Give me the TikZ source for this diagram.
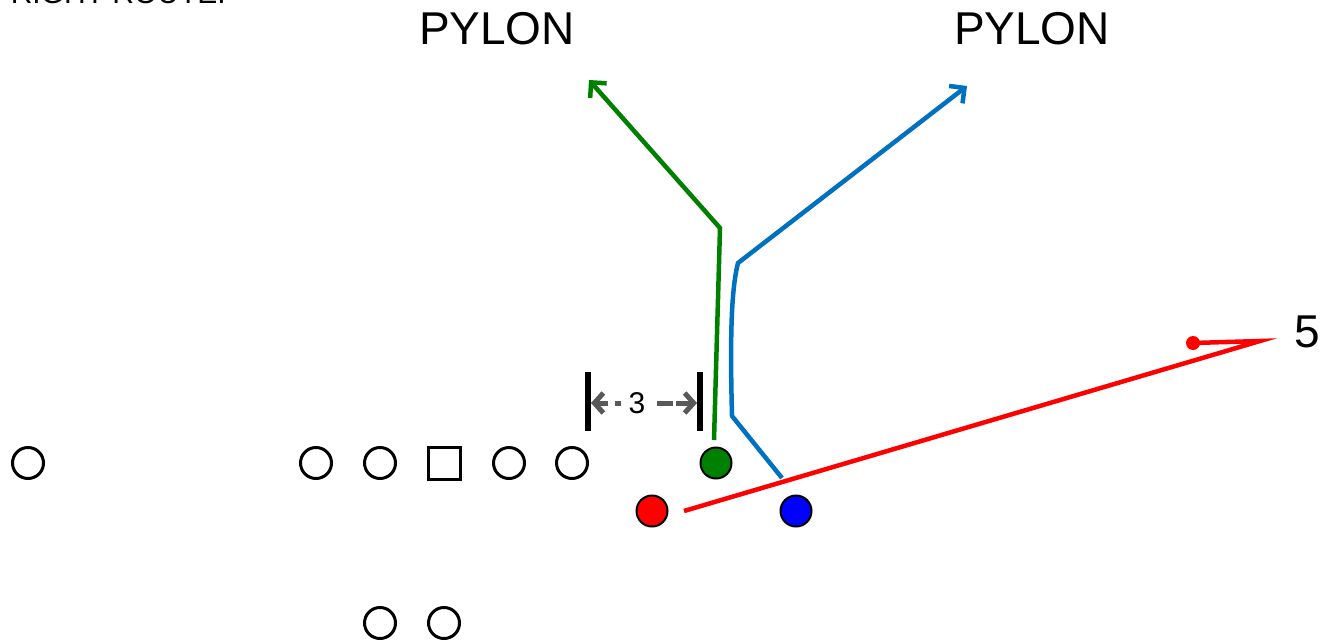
\documentclass[tikz,border=0pt]{standalone}
\usepackage{fontspec}
\setmainfont{Liberation Sans}
\usetikzlibrary{arrows.meta}
\definecolor{routegreen}{RGB}{0,128,0}
\definecolor{routeblue}{RGB}{0,112,192}
\definecolor{routered}{RGB}{255,0,0}
\definecolor{dotblue}{RGB}{0,0,255}
\definecolor{dimgray}{RGB}{89,89,89}
\begin{document}
\begin{tikzpicture}[x=1pt,y=-1pt,
  player/.style={circle,draw=black,line width=3pt,minimum size=31pt,inner sep=0pt},
  centerbox/.style={rectangle,draw=black,line width=3pt,minimum size=32pt,inner sep=0pt},
  skill/.style={circle,draw=black,line width=2pt,minimum size=31pt,inner sep=0pt},
  routeline/.style={line width=4.5pt,line join=miter},
  routetip/.style={-{Straight Barb[length=11pt,width=22pt,line width=4.5pt]}},
  label/.style={font=\fontsize{46}{50}\selectfont,inner sep=0pt},
  dimbar/.style={line width=6pt},
  dimarrow/.style={line width=5pt,draw=dimgray,
    -{Straight Barb[length=9pt,width=20pt,line width=5pt]}}]
\useasboundingbox (0,0) rectangle (1324,643);
\clip (0,0) rectangle (1324,643);
\fill[white] (0,0) rectangle (1324,643);

% cut-off title
\node[anchor=base east,font=\fontsize{30}{34}\selectfont,inner sep=0pt] (title) at (226,3) {RIGHT ROUTE.};

% offensive line and backs
\node[player] (wr) at (28,463) {};
\node[player] (lt) at (316,463) {};
\node[player] (lg) at (380,463) {};
\node[centerbox] (c) at (444,463) {};
\node[player] (rg) at (509,463) {};
\node[player] (rt) at (572,463) {};
\node[player] (b1) at (380,623) {};
\node[player] (b2) at (444,623) {};

% skill players
\node[skill,fill=routegreen] (g) at (716,463) {};
\node[skill,fill=routered] (r) at (652,511) {};
\node[skill,fill=dotblue] (b) at (796,511) {};

% labels
\node[label] (pyl1) at (497,29) {PYLON};
\node[label] (pyl2) at (1032,29) {PYLON};
\node[label] (five) at (1307,332) {5};

% green route
\coordinate (gs) at (714,440);
\coordinate (gk) at (720,228);
\coordinate (ge) at (589,80);
\draw[routeline,draw=routegreen,routetip] (gs) -- (gk) -- (ge);

% blue route
\coordinate (bs) at (782,478);
\coordinate (bk1) at (732,416);
\coordinate (bk2) at (738,263);
\coordinate (be) at (967,86);
\draw[routeline,draw=routeblue,routetip] (bs) -- (bk1) .. controls (730,340) and (731,290) .. (bk2) -- (be);

% red route
\coordinate (rs) at (684,511);
\coordinate (rk) at (1260,341);
\coordinate (re) at (1193,343);
\draw[routeline,draw=routered] (rs) -- (rk) -- (re);
\fill[routered] (re) circle (7pt);

% 3-yard split marker
\coordinate (lbt) at (588,372);
\coordinate (lbb) at (588,431);
\coordinate (rbt) at (700,372);
\coordinate (rbb) at (700,431);
\draw[dimbar] (lbt) -- (lbb);
\draw[dimbar] (rbt) -- (rbb);
\node[font=\fontsize{30}{32}\selectfont,inner sep=3pt] (three) at (637,403) {3};
\coordinate (la) at (591,403);
\coordinate (ra) at (697,403);
\draw[dimarrow,dash pattern=on 6pt off 7pt on 30pt] (621,403) -- (la);
\draw[dimarrow,dash pattern=on 16pt off 3pt] (657,403) -- (ra);
\end{tikzpicture}
\end{document}
